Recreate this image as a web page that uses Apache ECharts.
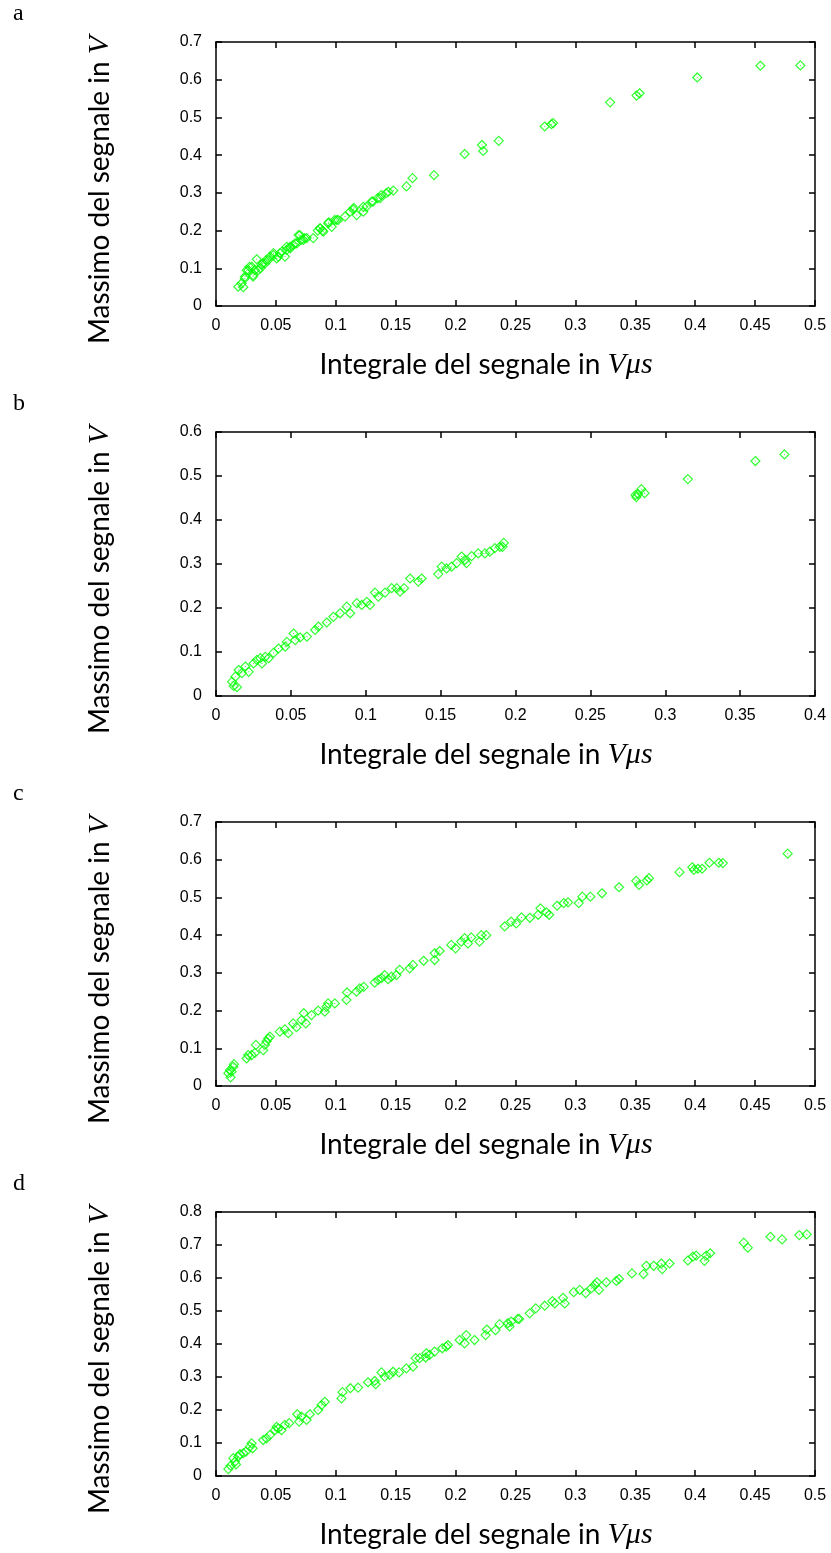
<!DOCTYPE html>
<html><head><meta charset="utf-8">
<script src="https://cdn.jsdelivr.net/npm/echarts@6/dist/echarts.min.js"></script>
<style>html,body{margin:0;padding:0;background:#fff}#c{width:831px;height:1553px}</style>
</head><body><div id="c"></div>
<script>
// Panel a: [integral (V·µs), max (V)]
const panelA = [
[0.0186,0.051],[0.0228,0.050],[0.0214,0.060],[0.024,0.073],[0.0242,0.078],[0.0256,0.095],[0.027,0.095],
[0.028,0.104],[0.0298,0.104],[0.031,0.078],[0.031,0.082],[0.0325,0.095],[0.034,0.124],[0.0353,0.095],
[0.037,0.100],[0.038,0.109],[0.039,0.113],[0.041,0.113],[0.042,0.122],[0.0437,0.122],[0.045,0.131],
[0.048,0.135],[0.048,0.140],[0.0507,0.126],[0.052,0.131],[0.0534,0.140],[0.055,0.144],[0.0576,0.131],
[0.059,0.149],[0.059,0.157],[0.0618,0.157],[0.062,0.153],[0.0645,0.162],[0.066,0.166],[0.0674,0.166],
[0.069,0.188],[0.070,0.188],[0.071,0.175],[0.0729,0.175],[0.074,0.180],[0.0757,0.180],[0.0812,0.180],
[0.085,0.200],[0.0868,0.206],[0.087,0.206],[0.089,0.200],[0.0896,0.197],[0.0937,0.219],[0.094,0.222],
[0.0966,0.210],[0.099,0.228],[0.1007,0.228],[0.102,0.228],[0.1077,0.237],[0.1119,0.250],[0.1146,0.256],
[0.115,0.260],[0.1174,0.241],[0.123,0.250],[0.123,0.263],[0.1255,0.263],[0.130,0.277],[0.131,0.277],
[0.135,0.286],[0.137,0.286],[0.138,0.294],[0.142,0.299],[0.1438,0.303],[0.148,0.306],[0.159,0.317],
[0.164,0.339],[0.182,0.347],[0.2075,0.403],[0.222,0.427],[0.223,0.411],[0.236,0.438],
[0.2744,0.476],[0.280,0.482],[0.2814,0.485],[0.329,0.540],[0.351,0.558],[0.3536,0.564],
[0.4017,0.606],[0.4544,0.637],[0.4878,0.638]
];
// Panel b
const panelB = [
[0.0107,0.0326],[0.0118,0.023],[0.014,0.020],[0.0129,0.044],[0.0151,0.059],[0.0173,0.052],[0.0196,0.067],
[0.0218,0.055],[0.0251,0.074],[0.0273,0.082],[0.0296,0.086],[0.0307,0.074],[0.0329,0.089],[0.0351,0.086],
[0.0384,0.098],[0.0418,0.108],[0.0462,0.112],[0.0473,0.123],[0.0518,0.142],[0.0529,0.127],[0.0562,0.133],
[0.0607,0.135],[0.0662,0.150],[0.0684,0.158],[0.074,0.167],[0.0784,0.180],[0.0829,0.188],[0.0873,0.203],
[0.0896,0.188],[0.094,0.211],[0.0973,0.207],[0.1007,0.214],[0.1029,0.207],[0.1062,0.235],[0.1084,0.226],
[0.1129,0.235],[0.1173,0.245],[0.1207,0.245],[0.1229,0.237],[0.1256,0.245],[0.1296,0.267],[0.1351,0.260],
[0.1373,0.267],[0.1484,0.277],[0.1507,0.294],[0.154,0.290],[0.1573,0.294],[0.1607,0.302],[0.164,0.317],
[0.1662,0.309],[0.1673,0.302],[0.1707,0.318],[0.1751,0.324],[0.1796,0.324],[0.1829,0.328],[0.1862,0.336],
[0.1896,0.339],[0.1913,0.339],[0.1922,0.348],
[0.2802,0.457],[0.2807,0.452],[0.2818,0.459],[0.284,0.470],[0.2862,0.461],[0.3151,0.493],[0.3602,0.534],[0.3796,0.549]
];
// Panel c
const panelC = [
[0.0103,0.034],[0.0122,0.023],[0.0117,0.042],[0.0144,0.051],[0.013,0.038],[0.015,0.058],[0.0256,0.073],
[0.0269,0.082],[0.0297,0.082],[0.0325,0.088],[0.0333,0.109],[0.0394,0.095],[0.0408,0.109],[0.0422,0.118],
[0.0436,0.126],[0.045,0.131],[0.0533,0.144],[0.0575,0.150],[0.0603,0.140],[0.0644,0.166],[0.0672,0.156],
[0.0714,0.175],[0.0733,0.193],[0.075,0.166],[0.0797,0.188],[0.0853,0.200],[0.0908,0.197],[0.0922,0.210],
[0.0936,0.219],[0.0992,0.219],[0.1089,0.228],[0.1094,0.248],[0.1172,0.250],[0.120,0.259],[0.1233,0.263],
[0.1325,0.274],[0.1353,0.281],[0.1381,0.286],[0.1408,0.294],[0.1436,0.283],[0.1464,0.290],[0.1506,0.294],
[0.1533,0.308],[0.1617,0.312],[0.1644,0.321],[0.1733,0.332],[0.1825,0.352],[0.1867,0.358],[0.1825,0.334],
[0.1964,0.374],[0.200,0.365],[0.2047,0.383],[0.2075,0.392],[0.2103,0.378],[0.2131,0.394],[0.220,0.383],
[0.2214,0.400],[0.2256,0.400],[0.241,0.423],[0.2464,0.436],[0.2506,0.431],[0.255,0.447],[0.262,0.446],
[0.2689,0.454],[0.2708,0.471],[0.2758,0.460],[0.2781,0.454],[0.2847,0.478],[0.2903,0.485],[0.2939,0.487],
[0.3028,0.485],[0.3058,0.502],[0.3125,0.502],[0.3222,0.511],[0.3364,0.527],[0.3508,0.544],[0.3531,0.533],
[0.3597,0.545],[0.3614,0.551],[0.3869,0.567],[0.3975,0.580],[0.3989,0.573],[0.4022,0.576],[0.4058,0.576],
[0.4119,0.592],[0.4197,0.592],[0.4231,0.591],[0.4772,0.616]
];
// Panel d
const panelD = [
[0.0103,0.021],[0.0122,0.031],[0.0144,0.054],[0.0158,0.043],[0.0167,0.035],[0.0186,0.059],[0.020,0.066],
[0.0228,0.069],[0.025,0.074],[0.0283,0.089],[0.0297,0.099],[0.0306,0.084],[0.0394,0.109],[0.0422,0.114],
[0.045,0.124],[0.0492,0.139],[0.0506,0.149],[0.0519,0.144],[0.0547,0.139],[0.0575,0.155],[0.0611,0.160],
[0.0678,0.187],[0.0694,0.165],[0.0714,0.180],[0.0756,0.170],[0.0783,0.187],[0.0853,0.200],[0.0881,0.215],
[0.0908,0.225],[0.1047,0.235],[0.1056,0.254],[0.1122,0.266],[0.1186,0.268],[0.1269,0.284],[0.1325,0.288],
[0.1333,0.278],[0.1381,0.314],[0.1408,0.301],[0.145,0.306],[0.1478,0.316],[0.1528,0.314],[0.1589,0.326],
[0.1644,0.331],[0.1667,0.357],[0.170,0.357],[0.175,0.359],[0.1756,0.372],[0.1783,0.367],[0.1825,0.377],
[0.1889,0.387],[0.1922,0.392],[0.1936,0.397],[0.2033,0.412],[0.2075,0.402],[0.2089,0.427],[0.2158,0.412],
[0.225,0.427],[0.2261,0.444],[0.2333,0.442],[0.2367,0.460],[0.2436,0.463],[0.245,0.453],[0.2464,0.468],
[0.2519,0.476],[0.2531,0.476],[0.2619,0.493],[0.2669,0.508],[0.2744,0.516],[0.2808,0.530],[0.2828,0.523],
[0.2897,0.540],[0.2911,0.523],[0.2986,0.557],[0.3036,0.564],[0.3086,0.554],[0.3133,0.569],[0.3161,0.579],
[0.3197,0.564],[0.318,0.587],[0.3258,0.587],[0.3342,0.591],[0.3364,0.597],[0.3472,0.614],[0.3569,0.612],
[0.3592,0.637],[0.3653,0.637],[0.3717,0.644],[0.3725,0.627],[0.3786,0.644],[0.3939,0.653],[0.3981,0.665],
[0.4008,0.668],[0.4078,0.652],[0.4092,0.668],[0.4125,0.675],[0.4406,0.707],[0.4439,0.692],[0.4628,0.725],
[0.4725,0.717],[0.4869,0.730],[0.4931,0.732]
];
const panels = [panelA, panelB, panelC, panelD];
const letters = ['a', 'b', 'c', 'd'];
const xMax = [0.5, 0.4, 0.5, 0.5];
const yMax = [0.7, 0.6, 0.7, 0.8];
const xStep = 0.05, yStep = 0.1;
const xTitle = 'Integrale del segnale in ';
const xUnit = 'Vμs';
const yTitle = 'Massimo del segnale in ';
const yUnit = 'V';

const GREEN = '#00ff00';
const fmt = v => (Math.abs(v) < 1e-9 ? '0' : String(+v.toFixed(2)));
const line = {color: '#000', width: 1.5};
const tickFont = {fontFamily: 'Liberation Sans', fontSize: 16, color: '#000'};

const grid = [], xAxis = [], yAxis = [], series = [], graphic = [];
panels.forEach((data, i) => {
  const top = 42 + 390 * i;
  grid.push({left: 216, top: top, width: 599, height: 264, containLabel: false});
  ['bottom', 'top'].forEach((pos, k) => {
    xAxis.push({gridIndex: i, type: 'value', position: pos, min: 0, max: xMax[i], interval: xStep,
      axisLine: {show: true, onZero: false, lineStyle: line},
      axisTick: {show: true, inside: true, length: 6, lineStyle: line},
      axisLabel: Object.assign({show: k === 0, margin: 12, formatter: fmt}, tickFont),
      splitLine: {show: false}});
  });
  ['left', 'right'].forEach((pos, k) => {
    yAxis.push({gridIndex: i, type: 'value', position: pos, min: 0, max: yMax[i], interval: yStep,
      axisLine: {show: true, onZero: false, lineStyle: line},
      axisTick: {show: true, inside: true, length: 6, lineStyle: line},
      axisLabel: Object.assign({show: k === 0, margin: 14, formatter: fmt}, tickFont),
      splitLine: {show: false}});
  });
  series.push({type: 'scatter', xAxisIndex: 2 * i, yAxisIndex: 2 * i, data: data,
    symbol: 'diamond', symbolSize: 9,
    itemStyle: {color: 'rgba(0,0,0,0)', borderColor: GREEN, borderWidth: 1.2},
    emphasis: {disabled: true}, silent: true});
  series.push({type: 'scatter', xAxisIndex: 2 * i, yAxisIndex: 2 * i, data: data,
    symbol: 'rect', symbolSize: 1, itemStyle: {color: GREEN}, silent: true, z: 3});

  graphic.push({type: 'text', left: 13, top: 2 + 390 * i,
    style: {text: letters[i], font: '24px "Liberation Serif"', fill: '#000'}});
  graphic.push({type: 'text', x: 100, y: 190 + 390 * i, rotation: Math.PI / 2,
    style: {text: yTitle + '{v|' + yUnit + '}', font: '28px Lato', fill: '#000',
      align: 'center', verticalAlign: 'middle',
      rich: {v: {font: 'italic 30px "Liberation Serif"', fill: '#000'}}}});
  graphic.push({type: 'text', x: 486, y: 365 + 390 * i,
    style: {text: xTitle + '{v|' + xUnit + '}', font: '28px Lato', fill: '#000',
      align: 'center', verticalAlign: 'middle',
      rich: {v: {font: 'italic 30px "Liberation Serif"', fill: '#000'}}}});
});

const chart = echarts.init(document.getElementById('c'), null, {renderer: 'canvas'});
chart.setOption({animation: false, backgroundColor: '#fff', grid, xAxis, yAxis, series, graphic});
</script>
</body></html>
